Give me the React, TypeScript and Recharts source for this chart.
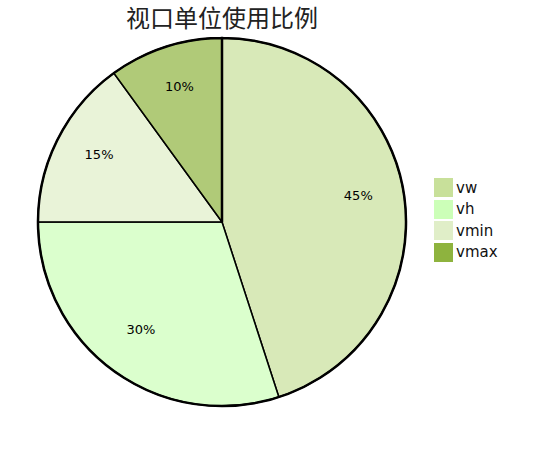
import { PieChart, Pie, Cell, Legend } from "recharts";

const units = ["vw", "vh", "vmin", "vmax"];
const shares = [45, 30, 15, 10];
const colors = ["#c8e09a", "#ccffb8", "#e0eec8", "#8eb33e"];

const data = units.map((name, i) => ({ name, value: shares[i] }));
const outline = [{ name: "outline", value: 1 }];

const RAD = Math.PI / 180;

const renderLabel = (props: any) => {
  const { cx, cy, midAngle, outerRadius, value } = props;
  const r = outerRadius * 0.75;
  const x = cx + r * Math.cos(-midAngle * RAD);
  const y = cy + r * Math.sin(-midAngle * RAD);
  return (
    <text
      x={x}
      y={y}
      fill="#000"
      fontSize={13}
      fontFamily="DejaVu Sans, Verdana, sans-serif"
      textAnchor="middle"
    >
      {value}%
    </text>
  );
};

const renderLegend = () => (
  <div>
    {units.map((u, i) => (
      <div key={u} style={{ display: "flex", alignItems: "center", height: 21.5 }}>
        <span style={{ width: 19, height: 19, background: colors[i], display: "inline-block" }} />
        <span style={{ marginLeft: 3, fontSize: 15, color: "#111", fontFamily: "DejaVu Sans, Verdana, sans-serif" }}>
          {u}
        </span>
      </div>
    ))}
  </div>
);

export default function App() {
  return (
    <div style={{ position: "absolute", left: 0, top: 0, width: 554, height: 450, background: "#fff" }}>
      <PieChart width={554} height={450} margin={{ top: 0, right: 0, bottom: 0, left: 0 }}>
        <text
          x={222}
          y={16}
          textAnchor="middle"
          dominantBaseline="central"
          fontSize={24}
          fill="#222"
          fontFamily="Noto Sans CJK SC, sans-serif"
        >
          视口单位使用比例
        </text>
        <Pie
          data={data}
          dataKey="value"
          nameKey="name"
          cx={222}
          cy={222}
          outerRadius={184}
          startAngle={90}
          endAngle={-270}
          stroke="#000"
          strokeWidth={1.5}
          label={renderLabel}
          labelLine={false}
          isAnimationActive={false}
        >
          {data.map((d, i) => (
            <Cell key={d.name} fill={colors[i]} fillOpacity={0.7} />
          ))}
        </Pie>
        <Pie
          data={outline}
          dataKey="value"
          cx={222}
          cy={222}
          outerRadius={184}
          startAngle={90}
          endAngle={-270}
          fill="none"
          stroke="#000"
          strokeWidth={2.5}
          legendType="none"
          isAnimationActive={false}
        />
        <Legend
          layout="vertical"
          content={renderLegend}
          wrapperStyle={{ position: "absolute", left: 434, top: 177, width: 100 }}
        />
      </PieChart>
    </div>
  );
}
